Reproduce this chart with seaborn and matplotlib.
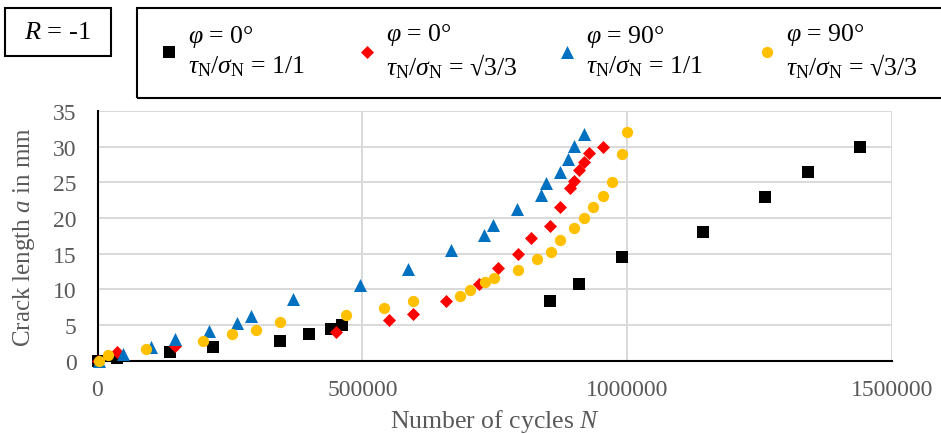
import matplotlib
matplotlib.use("Agg")
import matplotlib.pyplot as plt
import matplotlib.ticker as mticker
from matplotlib.patches import Rectangle
import seaborn as sns

# ---------------- data ----------------
# phi = 0 deg, tau/sigma = 1/1  (black squares)
n_phi0_11 = [0, 37000, 136500, 217500, 344000, 398500, 441000, 461500,
             855000, 910000, 991000, 1143000, 1260000, 1341000, 1439000]
a_phi0_11 = [0, 0.35, 1.2, 1.9, 2.75, 3.7, 4.5, 4.95,
             8.35, 10.8, 14.6, 18.0, 23.0, 26.4, 29.9]

# phi = 0 deg, tau/sigma = sqrt(3)/3  (red diamonds)
n_phi0_s3 = [0, 36000, 146000, 451000, 551000, 595000, 658500, 721000, 757000,
             794000, 819000, 855000, 873000, 891500, 899500, 909000, 918000,
             927000, 954000]
a_phi0_s3 = [0, 1.2, 2.0, 4.0, 5.7, 6.5, 8.35, 10.8, 13.0,
             14.95, 17.2, 18.9, 21.6, 24.15, 25.2, 26.75, 27.8,
             29.05, 29.9]

# phi = 90 deg, tau/sigma = 1/1  (blue triangles)
n_phi90_11 = [3000, 48000, 101000, 146000, 210000, 263500, 290000, 370000,
              496000, 586000, 667000, 730000, 747000, 792000, 837000, 846000,
              873000, 888000, 900000, 918000]
a_phi90_11 = [0, 0.9, 1.9, 3.1, 4.2, 5.3, 6.3, 8.6,
              10.6, 12.8, 15.5, 17.6, 19.0, 21.25, 23.2, 24.85,
              26.5, 28.25, 30.1, 31.75]

# phi = 90 deg, tau/sigma = sqrt(3)/3  (orange circles)
n_phi90_s3 = [2500, 20000, 92000, 199000, 253500, 299000, 344000, 469000,
              541500, 595000, 684900, 704000, 731000, 748000, 794000, 829000,
              856000, 873000, 900000, 918000, 936000, 954000, 972000, 990000,
              999000]
a_phi90_s3 = [0, 0.75, 1.6, 2.7, 3.7, 4.25, 5.4, 6.35,
              7.35, 8.35, 9.0, 9.85, 11.0, 11.6, 12.7, 14.25,
              15.3, 16.95, 18.6, 20.0, 21.6, 23.1, 25.1, 28.95,
              32.1]

series_labels = [
    "$\\varphi$ = 0°\n$\\tau_\\mathrm{N}/\\sigma_\\mathrm{N}$ = 1/1",
    "$\\varphi$ = 0°\n$\\tau_\\mathrm{N}/\\sigma_\\mathrm{N}$ = √3/3",
    "$\\varphi$ = 90°\n$\\tau_\\mathrm{N}/\\sigma_\\mathrm{N}$ = 1/1",
    "$\\varphi$ = 90°\n$\\tau_\\mathrm{N}/\\sigma_\\mathrm{N}$ = √3/3",
]
x_ticks = [0, 500000, 1000000, 1500000]
y_ticks = [0, 5, 10, 15, 20, 25, 30, 35]

# ---------------- style ----------------
sns.set_theme(style="white")
plt.rcParams["font.family"] = ["Liberation Serif", "DejaVu Serif"]
plt.rcParams["mathtext.fontset"] = "custom"
plt.rcParams["mathtext.rm"] = "Liberation Serif"
plt.rcParams["mathtext.it"] = "Liberation Serif:italic"
plt.rcParams["mathtext.bf"] = "Liberation Serif:bold"

W, H = 941, 435
FS = 17      # tick labels
FS_L = 18.5  # legend / axis titles
GREY = "#595959"

fig = plt.figure(figsize=(W / 100, H / 100), dpi=100)
x0, x1, y_top, y_bot = 97.5, 892, 112, 361.7
ax = fig.add_axes([x0 / W, (H - y_bot) / H, (x1 - x0) / W, (y_bot - y_top) / H])

common = dict(ax=ax, linewidth=0, zorder=3, clip_on=False, legend=False)
sns.scatterplot(x=n_phi0_11, y=a_phi0_11, marker="s", color="#000000", s=70, **common)
sns.scatterplot(x=n_phi0_s3, y=a_phi0_s3, marker="D", color="#FF0000", s=44, **common)
sns.scatterplot(x=n_phi90_11, y=a_phi90_11, marker="^", color="#0070C0", s=88, **common)
sns.scatterplot(x=n_phi90_s3, y=a_phi90_s3, marker="o", color="#FFC000", s=66, **common)

ax.set_xlim(0, 1500000)
ax.set_ylim(0, 35)
ax.set_xticks(x_ticks)
ax.set_yticks(y_ticks)
ax.xaxis.set_major_formatter(mticker.FuncFormatter(lambda v, p: f"{int(v)}"))
ax.yaxis.set_major_formatter(mticker.FuncFormatter(lambda v, p: f"{int(v)}"))

ax.set_axisbelow(True)
ax.grid(True, color="#D9D9D9", linewidth=1.4)
for side in ["top", "right"]:
    ax.spines[side].set_visible(False)
for side in ["left", "bottom"]:
    ax.spines[side].set_color("black")
    ax.spines[side].set_linewidth(1.5)
ax.tick_params(axis="both", direction="inout", length=10, width=1.5,
               color="black", labelcolor=GREY, labelsize=FS)
ax.tick_params(axis="x", pad=8)
ax.tick_params(axis="y", pad=10)

ax.set_xlabel("Number of cycles $N$", fontsize=FS_L, color=GREY)
ax.set_ylabel("Crack length $a$ in mm", fontsize=FS_L - 0.5, color=GREY)
ax.xaxis.label.set_va("center")
ax.yaxis.label.set_va("center")
ax.xaxis.set_label_coords(0.5, (y_bot - 421.7) / (y_bot - y_top))
ax.yaxis.set_label_coords((24 - x0) / (x1 - x0), 0.5)

# ---------------- boxes ----------------
def fig_rect(px_l, px_t, px_r, px_b):
    return Rectangle((px_l / W, (H - px_b) / H), (px_r - px_l) / W, (px_b - px_t) / H,
                     transform=fig.transFigure, fill=False, edgecolor="black",
                     linewidth=1.5, clip_on=False)

fig.add_artist(fig_rect(5, 9, 111, 57))
fig.text(57 / W, (H - 33) / H, "$R$ = -1", ha="center", va="center",
         fontsize=FS_L + 0.5, color="black")
fig.add_artist(fig_rect(137, 9, 960, 99))

# ---------------- legend entries ----------------
handles = ax.collections[:4]
marker_x = [169, 367, 567, 767]
hl = 0.7
for h, lab, mx in zip(handles, series_labels, marker_x):
    left = mx - hl * FS_L * 100 / 72 / 2
    leg = fig.legend([h], [lab], loc="center left",
                     bbox_to_anchor=(left / W, (H - 51.5) / H),
                     frameon=False, fontsize=FS_L, handlelength=hl, handletextpad=0.38,
                     borderpad=0, borderaxespad=0, scatterpoints=1, labelspacing=0,
                     labelcolor="black")
    for t in leg.get_texts():
        t.set_multialignment("left")

fig.savefig("out.png", dpi=100)
